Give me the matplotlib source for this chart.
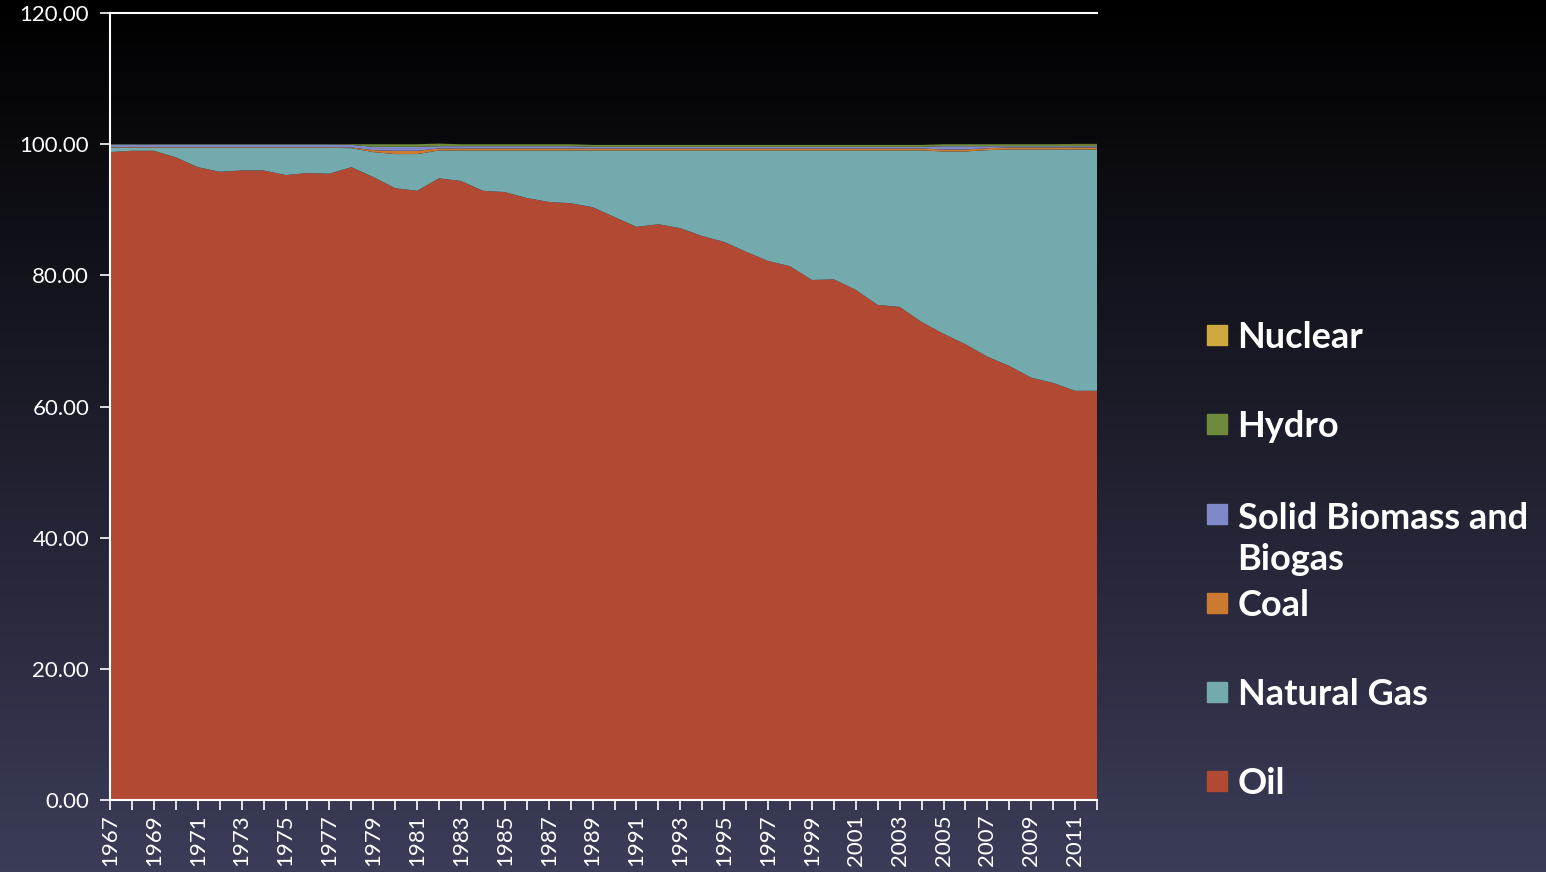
import numpy as np
import matplotlib.pyplot as plt
from matplotlib.patches import Rectangle

years = np.arange(1967, 2013)

# primary energy shares, %
oil = [98.8, 99.0, 99.0, 98.0, 96.5, 95.8, 96.0, 96.0, 95.3, 95.6,
       95.5, 96.5, 95.0, 93.3, 92.9, 94.8, 94.4, 92.9, 92.7, 91.8,
       91.2, 91.0, 90.4, 88.9, 87.4, 87.8, 87.2, 86.0, 85.1, 83.6,
       82.2, 81.4, 79.3, 79.4, 77.8, 75.5, 75.2, 72.9, 71.1, 69.5,
       67.6, 66.2, 64.4, 63.6, 62.4, 62.4]
gas = [0.65, 0.45, 0.45, 1.45, 2.95, 3.65, 3.45, 3.45, 4.15, 3.85,
       3.95, 2.9, 3.8, 5.2, 5.6, 4.25, 4.65, 6.15, 6.35, 7.25,
       7.85, 8.05, 8.65, 10.15, 11.65, 11.25, 11.85, 13.05, 13.95, 15.45,
       16.85, 17.65, 19.75, 19.65, 21.25, 23.55, 23.85, 26.15, 27.8, 29.4,
       31.5, 33.0, 34.8, 35.6, 36.8, 36.8]
coal = [0.1] * 12 + [0.3, 0.5, 0.5] + [0.3] * 31
biomass = [0.4] * 12 + [0.5, 0.6, 0.6] + [0.35] * 7 + [0.25] * 16 + [0.5, 0.5, 0.3, 0.2, 0.2, 0.2, 0.2, 0.2]
hydro = [0.05] * 11 + [0.1, 0.4, 0.4, 0.4, 0.4] + [0.3] * 30
nuclear = [0.0] * 44 + [0.05, 0.05]

series = [oil, gas, coal, biomass, hydro, nuclear]
labels = ['Oil', 'Natural Gas', 'Coal', 'Solid Biomass and\nBiogas', 'Hydro', 'Nuclear']
colors = ['#b24a33', '#73aaad', '#cc7a30', '#7f88c8', '#6f8a3a', '#cfa840']

fig = plt.figure(figsize=(15.46, 8.72), dpi=100)

# dark vertical gradient behind everything
bg = fig.add_axes([0, 0, 1, 1], zorder=-1)
grad = np.linspace(0, 1, 256).reshape(-1, 1)
top = np.array([0.0, 0.0, 0.0])
bot = np.array([0x3b, 0x3c, 0x58]) / 255
img = top + (bot - top) * grad[..., None]
bg.imshow(img, aspect='auto', extent=[0, 1, 0, 1], origin='upper')
bg.axis('off')

ax = fig.add_axes([0.0712, 0.0826, 0.6384, 0.9024])
ax.set_facecolor('none')
ax.stackplot(years, series, colors=colors, linewidth=0)

ax.set_xlim(1967, 2012)
ax.set_ylim(0, 120)
ax.set_yticks(np.arange(0, 121, 20))
ax.set_yticklabels([f'{v:.2f}' for v in range(0, 121, 20)])
ax.set_xticks(years, minor=True)
ax.set_xticks(years[::2])
ax.set_xticklabels([str(y) for y in years[::2]], rotation=90)

for s in ['left', 'bottom', 'top']:
    ax.spines[s].set_color('white')
    ax.spines[s].set_linewidth(1.5)
ax.spines['right'].set_visible(False)
ax.tick_params(axis='both', which='both', colors='white', length=7, width=1.2,
               labelsize=16, labelcolor='white')
ax.tick_params(axis='y', pad=8)
ax.tick_params(axis='x', which='minor', labelbottom=False)
for t in ax.get_xticklabels() + ax.get_yticklabels():
    t.set_fontfamily('Lato')

# legend, drawn top to bottom: (square centre, text centre)
rows = [(0.6158, 0.6158), (0.5138, 0.5138), (0.4106, 0.3847),
        (0.3085, 0.3085), (0.2064, 0.2064), (0.1044, 0.1044)]
for lab, col, (sy, ty) in zip(labels[::-1], colors[::-1], rows):
    fig.patches.append(Rectangle((0.7808, sy - 0.0115), 0.0129, 0.0229,
                                 transform=fig.transFigure, color=col))
    fig.text(0.8005, ty - 0.003, lab, color='white', fontsize=26,
             fontweight='bold', family='Lato', va='center', linespacing=1.3)

fig.savefig('out.png', dpi=100)
